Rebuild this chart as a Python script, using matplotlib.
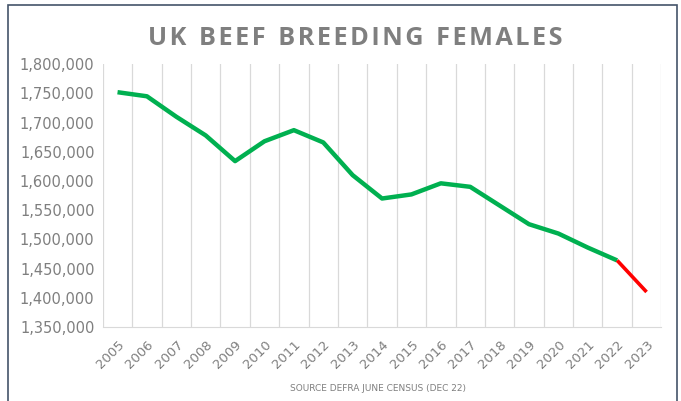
import numpy as np
import matplotlib.pyplot as plt
from matplotlib.patches import Rectangle

# UK beef breeding females
years = [str(y) for y in range(2005, 2024)]
females = [1752000, 1745000, 1710000, 1678000, 1634000, 1668000, 1687000,
           1666000, 1610000, 1570000, 1577000, 1596000, 1590000, 1558000,
           1526000, 1510000, 1486000, 1464000, 1410000]

green = '#00b050'
red = '#ff0000'
grey = '#7f7f7f'

fig = plt.figure(figsize=(6.81, 4.01), dpi=100)
ax = fig.add_axes([0.151, 0.1845, 0.820, 0.6555])

x = np.arange(len(years))
ax.plot(x[:-1], females[:-1], color=green, lw=3.2, solid_joinstyle='round', solid_capstyle='butt', zorder=3)
ax.plot(x[-2:], females[-2:], color=red, lw=2.6, solid_capstyle='butt', zorder=3)

ax.set_xlim(-0.5, len(years) - 0.5)
ax.set_ylim(1350000, 1800000)
ax.set_yticks(np.arange(1350000, 1800001, 50000))
ax.yaxis.set_major_formatter(plt.FuncFormatter(lambda v, p: f'{int(v):,}'))

# vertical gridlines at category boundaries (Excel style)
for b in np.arange(-0.5, len(years), 1.0):
    ax.axvline(b, color='#d9d9d9', lw=0.9, zorder=1)

ax.set_xticks(x)
ax.set_xticklabels(years, rotation=45, ha='right', rotation_mode='anchor')
ax.tick_params(axis='both', length=0, colors=grey)
ax.tick_params(axis='x', pad=8, labelsize=9.5)
ax.tick_params(axis='y', pad=6, labelsize=10.5)
for s in ['top', 'right', 'left']:
    ax.spines[s].set_visible(False)
ax.spines['bottom'].set_color('#d9d9d9')

# letter-spaced title
title = 'UK BEEF BREEDING FEMALES'
spaced = '\u2002'.join('\u200a'.join(w) for w in title.split(' '))
fig.text(0.521, 0.905, spaced, ha='center', va='center',
         fontsize=18.2, fontweight='bold', color=grey, family='Open Sans')
fig.text(0.555, 0.03, 'SOURCE DEFRA JUNE CENSUS (DEC 22)', ha='center', va='center',
         fontsize=6.5, color=grey)

# outer chart frame
fig.patches.append(Rectangle((8 / 681, -0.02), 669 / 681, 1 - 5 / 401 + 0.02,
                             transform=fig.transFigure, fill=False,
                             edgecolor='#44546a', lw=1.2))

fig.savefig('out.png', dpi=100)
